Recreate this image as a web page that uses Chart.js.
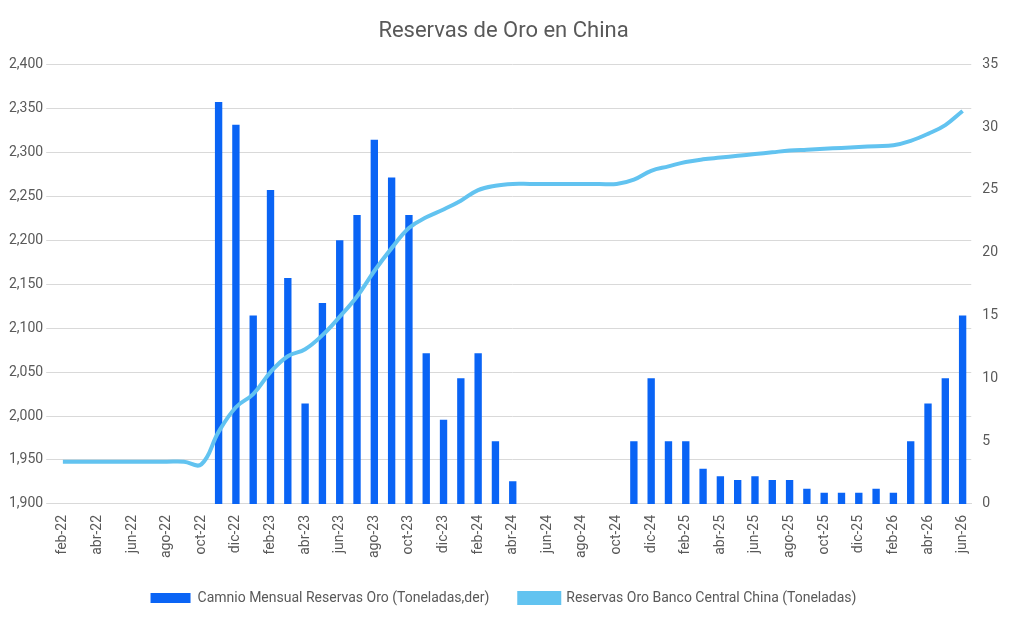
<!DOCTYPE html>
<html>
<head>
<meta charset="utf-8">
<script src="https://cdn.jsdelivr.net/npm/chart.js@4"></script>
<style>
  body { margin: 0; background: #fff; }
  #wrap { width: 1011px; height: 621px; }
</style>
</head>
<body>
<div id="wrap"><canvas id="c"></canvas></div>
<script>
const months = ["feb-22","mar-22","abr-22","may-22","jun-22","jul-22","ago-22","sep-22","oct-22","nov-22","dic-22",
  "ene-23","feb-23","mar-23","abr-23","may-23","jun-23","jul-23","ago-23","sep-23","oct-23","nov-23","dic-23",
  "ene-24","feb-24","mar-24","abr-24","may-24","jun-24","jul-24","ago-24","sep-24","oct-24","nov-24","dic-24",
  "ene-25","feb-25","mar-25","abr-25","may-25","jun-25","jul-25","ago-25","sep-25","oct-25","nov-25","dic-25",
  "ene-26","feb-26","mar-26","abr-26","may-26","jun-26"];

// monthly change, tonnes (right axis)
const monthlyChange = [0,0,0,0,0,0,0,0,0,32,30.2,
  15,25,18,8,16,21,23,29,26,23,12,6.7,
  10,12,5,1.8,0,0,0,0,0,0,5,10,
  5,5,2.8,2.2,1.9,2.2,1.9,1.9,1.2,0.9,0.9,0.9,
  1.2,0.9,5,8,10,15];

// total reserves, tonnes (left axis)
const reserves = [1948,1948,1948,1948,1948,1948,1948,1948,1945,1982,2010,
  2025,2050,2068,2076,2092,2113,2136,2165,2191,2214,2226,2235,
  2245,2257,2262,2264,2264,2264,2264,2264,2264,2264,2269,2279,
  2284,2289,2292,2294,2296,2298,2300,2302,2303,2304,2305,2306,
  2307,2308,2313,2321,2331,2347];

const font = { family: "Roboto, 'Open Sans', sans-serif", size: 14 };
Chart.defaults.font.family = font.family;
Chart.defaults.color = "#595959";

new Chart(document.getElementById("c"), {
  data: {
    labels: months,
    datasets: [
      {
        type: "line",
        label: "Reservas Oro Banco Central China (Toneladas)",
        data: reserves,
        yAxisID: "y",
        borderColor: "#62c3f0",
        backgroundColor: "#62c3f0",
        borderWidth: 4,
        pointRadius: 0,
        tension: 0.4,
        order: 1
      },
      {
        type: "bar",
        label: "Camnio Mensual Reservas Oro (Toneladas,der)",
        data: monthlyChange,
        yAxisID: "y1",
        backgroundColor: "#0a64f5",
        barPercentage: 0.85,
        categoryPercentage: 0.5,
        order: 2
      }
    ]
  },
  options: {
    responsive: true,
    maintainAspectRatio: false,
    animation: false,
    layout: { padding: { left: 6, right: 10, top: 10, bottom: 6 } },
    plugins: {
      title: {
        display: true,
        text: "Reservas de Oro en China",
        font: { size: 22, weight: "normal" },
        color: "#595959",
        padding: { top: 8, bottom: 20 }
      },
      legend: {
        position: "bottom",
        reverse: true,
        labels: { font: { size: 14 }, boxWidth: 40, boxHeight: 10, padding: 30 }
      },
      tooltip: { enabled: false }
    },
    scales: {
      x: {
        grid: { display: false },
        border: { color: "#d9d9d9" },
        ticks: {
          autoSkip: false,
          maxRotation: 90,
          minRotation: 90,
          font: { size: 14 },
          callback: function (v, i) { return i % 2 === 0 ? months[i] : ""; }
        }
      },
      y: {
        position: "left",
        min: 1900, max: 2400,
        ticks: { stepSize: 50, font: { size: 14 } },
        grid: { color: "#d9d9d9" },
        border: { display: false }
      },
      y1: {
        position: "right",
        min: 0, max: 35,
        ticks: { stepSize: 5, font: { size: 14 } },
        grid: { display: false },
        border: { display: false }
      }
    }
  }
});
</script>
</body>
</html>
